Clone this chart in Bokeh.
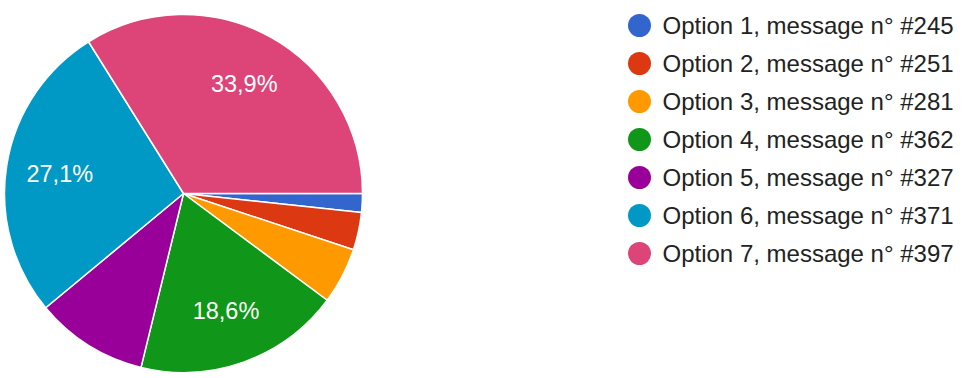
import math
from bokeh.plotting import figure
from bokeh.models import Range1d, ColumnDataSource
from bokeh.core.properties import value
from bokeh.embed import file_html
from bokeh.resources import INLINE

# Data
options = ["Option 1", "Option 2", "Option 3", "Option 4", "Option 5", "Option 6", "Option 7"]
message_ids = ["#245", "#251", "#281", "#362", "#327", "#371", "#397"]
counts = [1, 2, 3, 11, 6, 16, 20]
colors = ["#3366cc", "#dc3912", "#ff9900", "#109618", "#990099", "#0099c6", "#dd4477"]

W, H = 980, 378
cx, cy, R = 183, H - 193, 179
FONT = "Liberation Sans"

p = figure(width=W, height=H, output_backend="svg", toolbar_location=None,
           x_range=Range1d(0, W), y_range=Range1d(0, H), min_border=0)
p.axis.visible = False
p.grid.visible = False
p.outline_line_color = None

total = sum(counts)
starts, ends, cum = [], [], 0.0
for c in counts:
    starts.append(-cum / total * 2 * math.pi)
    cum += c
    ends.append(-cum / total * 2 * math.pi)

src = ColumnDataSource(dict(x=[cx] * len(counts), y=[cy] * len(counts),
                            start=starts, end=ends, color=colors))
p.wedge(x="x", y="y", radius=R, radius_units="screen", start_angle="start", end_angle="end",
        direction="clock", fill_color="color", line_color="white", line_width=1.5, source=src)

# slice labels
lx, ly, lt = [], [], []
cum = 0.0
for c in counts:
    frac = c / total
    mid = (cum + frac / 2) * 2 * math.pi
    cum += frac
    if frac > 0.15:
        lx.append(cx + 0.70 * R * math.cos(mid))
        ly.append(cy - 0.70 * R * math.sin(mid))
        lt.append(f"{frac * 100:.1f}%".replace(".", ","))
p.text(x=lx, y=ly, text=lt, text_color="white", text_font=value(FONT), text_font_size="23.5px",
       text_align="center", text_baseline="middle")

# legend
n = len(options)
leg_y = [H - (25 + 38 * i) for i in range(n)]
p.scatter(x=[639] * n, y=leg_y, size=23, marker="circle", fill_color=colors, line_color=None)
p.text(x=[662] * n, y=leg_y, text=[f"{o}, message n° {m}" for o, m in zip(options, message_ids)],
       text_color="#222222", text_font=value(FONT), text_font_size="24px",
       text_align="left", text_baseline="middle")

open("out.html", "w").write(file_html(p, INLINE))
